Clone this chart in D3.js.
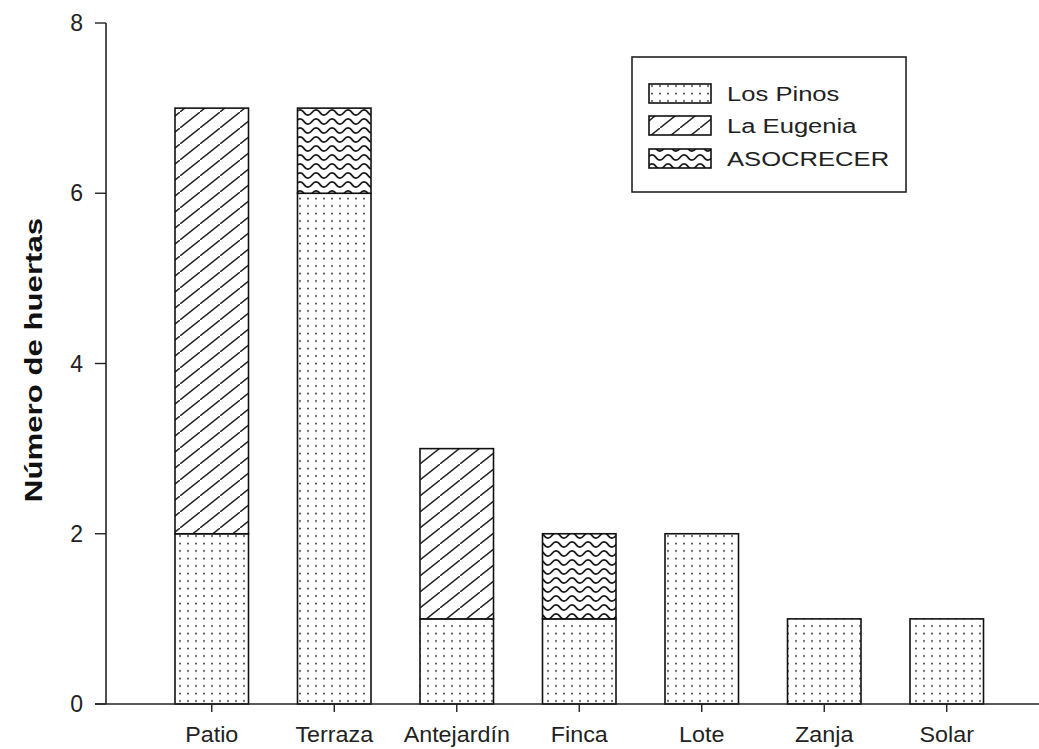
<!DOCTYPE html>
<html><head><meta charset="utf-8">
<script src="https://cdn.jsdelivr.net/npm/d3@7"></script>
<style>
html,body{margin:0;padding:0;background:#fff;}
svg{display:block;font-family:"Liberation Sans",Arial,sans-serif;}
</style></head>
<body>
<svg id="chart" width="1039" height="749"></svg>
<script>
const categories = ["Patio","Terraza","Antejardín","Finca","Lote","Zanja","Solar"];
const seriesNames = ["Los Pinos","La Eugenia","ASOCRECER"];
const losPinos  = [2,6,1,1,2,1,1];
const laEugenia = [5,0,2,0,0,0,0];
const asocrecer = [0,1,0,1,0,0,0];
const yTicks = [0,2,4,6,8];
const yTitle = "Número de huertas";

const svg = d3.select("#chart");
const defs = svg.append("defs");

// patterns
const pDots = defs.append("pattern").attr("id","pDots").attr("patternUnits","userSpaceOnUse")
  .attr("width",8).attr("height",7.5);
pDots.append("rect").attr("width",8).attr("height",7.5).attr("fill","#fff");
pDots.append("circle").attr("cx",4).attr("cy",3.5).attr("r",1).attr("fill","#333");

const pDiag = defs.append("pattern").attr("id","pDiag").attr("patternUnits","userSpaceOnUse")
  .attr("width",20).attr("height",16);
pDiag.append("rect").attr("width",20).attr("height",16).attr("fill","#fff");
pDiag.append("path").attr("d","M-2,17.6 L22,-1.6").attr("stroke","#222").attr("stroke-width",1.4).attr("fill","none");

const pWave = defs.append("pattern").attr("id","pWave").attr("patternUnits","userSpaceOnUse")
  .attr("width",16).attr("height",9);
pWave.append("rect").attr("width",16).attr("height",9).attr("fill","#fff");
pWave.append("path").attr("d","M-8,4.5 Q-4,-0.6 0,4.5 T8,4.5 T16,4.5 T24,4.5").attr("stroke","#1a1a1a").attr("stroke-width",1.8).attr("fill","none");

const fills = ["url(#pDots)","url(#pDiag)","url(#pWave)"];

const x = d3.scaleBand().domain(categories).range([126,1032.5]).paddingInner(0.4).paddingOuter(0.4);
const y = d3.scaleLinear().domain([0,8]).range([704,23]);

// stacked data
const rows = categories.map((c,i)=>({cat:c, s0:losPinos[i], s1:laEugenia[i], s2:asocrecer[i]}));
const stack = d3.stack().keys(["s0","s1","s2"])(rows);

stack.forEach((layer,k)=>{
  svg.append("g").selectAll("rect").data(layer.filter(d=>d[1]-d[0]>0)).join("rect")
    .attr("x",d=>x(d.data.cat)).attr("width",x.bandwidth())
    .attr("y",d=>y(d[1])).attr("height",d=>y(d[0])-y(d[1]))
    .attr("fill",fills[k]).attr("stroke","#111").attr("stroke-width",1.6);
});

// axes
const gx = svg.append("g").attr("transform","translate(0,704)");
gx.append("line").attr("x1",95).attr("x2",1039).attr("y1",0).attr("y2",0).attr("stroke","#222").attr("stroke-width",1.6);
gx.selectAll(".t").data(categories).join("line")
  .attr("x1",d=>x(d)+x.bandwidth()/2).attr("x2",d=>x(d)+x.bandwidth()/2)
  .attr("y1",0).attr("y2",8).attr("stroke","#222").attr("stroke-width",1.4);
gx.selectAll("text").data(categories).join("text")
  .attr("transform",d=>`translate(${x(d)+x.bandwidth()/2},38) scale(1.06,1)`)
  .attr("text-anchor","middle")
  .attr("font-size",22).attr("fill","#222").text(d=>d);

const gy = svg.append("g").attr("transform","translate(106,0)");
gy.append("line").attr("x1",0).attr("x2",0).attr("y1",y(8)).attr("y2",704).attr("stroke","#222").attr("stroke-width",1.6);
gy.selectAll(".t").data(yTicks).join("line")
  .attr("x1",-11).attr("x2",0).attr("y1",d=>y(d)).attr("y2",d=>y(d)).attr("stroke","#222").attr("stroke-width",1.4);
gy.selectAll("text").data(yTicks).join("text")
  .attr("x",-23).attr("y",d=>y(d)+8).attr("text-anchor","end")
  .attr("font-size",23).attr("fill","#222").text(d=>d);

// y title
svg.append("text").attr("transform","translate(42,360) rotate(-90) scale(1.3,1)")
  .attr("text-anchor","middle").attr("font-size",24).attr("font-weight","bold").attr("fill","#111")
  .text(yTitle);

// legend
const lg = svg.append("g");
lg.append("rect").attr("x",632).attr("y",57).attr("width",274).attr("height",135)
  .attr("fill","#fff").attr("stroke","#222").attr("stroke-width",1.6);
const ly = [84,116,149];
seriesNames.forEach((n,i)=>{
  lg.append("rect").attr("x",649).attr("y",ly[i]).attr("width",62).attr("height",19)
    .attr("fill",fills[i]).attr("stroke","#111").attr("stroke-width",1.6);
  lg.append("text").attr("x",727).attr("y",ly[i]+17).attr("font-size",20).attr("fill","#222")
    .attr("transform",`translate(727,0) scale(1.28,1) translate(-727,0)`).text(n);
});
</script>
</body></html>
